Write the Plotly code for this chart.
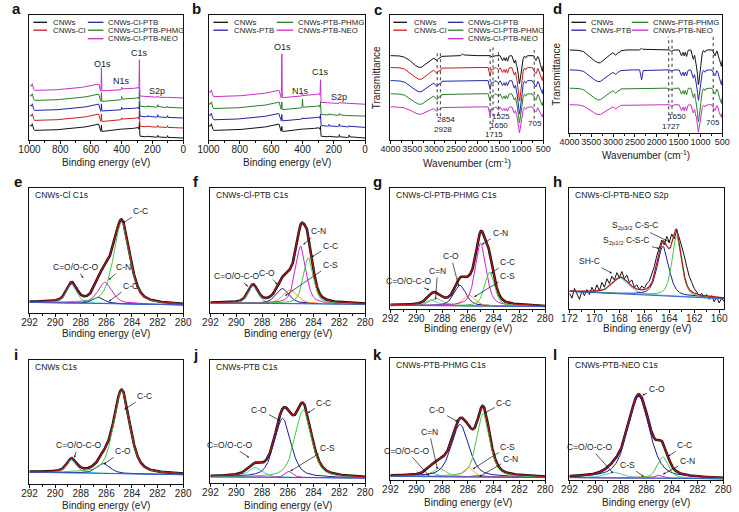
import numpy as np
import plotly.graph_objects as go

# ====================== DATA ======================
# ---- a / b : XPS survey spectra (binding energy eV, intensity a.u.) ----
SURVEY_BG_BE = [1000, 990, 982, 972, 960, 900, 750, 600, 565, 548, 537, 528, 450, 350, 300, 291, 286, 281, 250, 150, 0]
SURVEY_BG_I = [12.0, 11.0, 12.0, 8.0, 7.5, 7.6, 8.8, 11.0, 12.3, 12.8, 7.0, 6.8, 7.6, 9.0, 9.6, 10.0, 7.0, 3.0, 2.6, 2.2, 1.6]
SURVEY_PEAK_BE = [978, 532, 400, 285, 230, 165, 102]      # O KLL, O1s, N1s, C1s, S2s, S2p, Si2p
SURVEY_PEAK_FWHM = [8, 3, 3, 3, 3, 3, 3]

A_NAMES = ["CNWs", "CNWs-Cl", "CNWs-Cl-PTB", "CNWs-Cl-PTB-PHMG", "CNWs-Cl-PTB-NEO"]
A_OFFSET = [0, 8, 16, 24, 32]
A_PEAK_H = [
    [2, 5, 0.5, 8, 0.5, 1.5, 1.5],
    [2, 6, 1.5, 9, 0.5, 1.5, 1.5],
    [2, 6, 2.0, 9, 1.0, 2.0, 1.5],
    [2, 7, 2.5, 10, 1.0, 2.0, 1.0],
    [2, 19, 2.0, 26, 0.5, 1.0, 0.5],
]
B_NAMES = ["CNWs", "CNWs-PTB", "CNWs-PTB-PHMG", "CNWs-PTB-NEO"]
B_OFFSET = [0, 8.5, 17.5, 27]
B_PEAK_H = [
    [2, 4, 0.5, 5, 0.5, 2.0, 2.0],
    [2, 5, 1.0, 6, 1.5, 2.0, 1.0],
    [2, 6, 7.0, 7, 1.0, 1.5, 0.5],
    [2, 35, 1.5, 15, 0.5, 1.0, 0.5],
]

# ---- c / d : FTIR spectra (wavenumber cm-1, transmittance a.u.) ----
IR_BAND_CM = [3320, 2928, 2854, 2345, 1715, 1650, 1525, 1430, 1370, 1315, 1160, 1105, 1055, 1025, 895, 705, 665, 560, 515]
IR_BAND_FWHM = [420, 70, 40, 35, 35, 50, 40, 45, 35, 35, 45, 35, 50, 80, 30, 40, 45, 60, 40]

C_NAMES = ["CNWs", "CNWs-Cl", "CNWs-Cl-PTB", "CNWs-Cl-PTB-PHMG", "CNWs-Cl-PTB-NEO"]
C_LEVEL = [67.5, 58, 47.5, 37, 26.5]
C_DEPTH = [
    [9.5, 3.0, 1.5, -1.5, 0, 1.5, 0, 4, 4, 4.5, 6, 7, 9, 17, 2, 0, 4, 7, 11],
    [9.5, 4.0, 2.5, 0, 7, 2, 2, 4, 4, 4.5, 6, 8, 10, 21, 2, 2, 5, 6, 9],
    [9.0, 4.0, 2.5, 0, 7, 2, 2, 4, 4, 4.0, 6, 8, 10, 21, 2, 2, 5, 6, 9],
    [8.5, 4.0, 2.5, 0, 6, 2, 2, 4, 4, 4.0, 5, 7, 9, 18, 2, 2, 5, 6, 8],
    [6.0, 3.0, 2.0, 0, 7, 2, 2.5, 3, 3, 3.5, 5, 6, 8, 16, 2, 2, 4, 5, 7],
]
C_MARK_CM = [2928, 2854, 1715, 1650, 1525, 705]
C_MARK_TOP = [71.6, 71.6, 75, 75, 71, 72]
C_MARK_BOTTOM = [19, 19, 8, 14, 20, 17]

D_NAMES = ["CNWs", "CNWs-PTB", "CNWs-PTB-PHMG", "CNWs-PTB-NEO"]
D_LEVEL = [70.4, 53.5, 38, 24]
D_DEPTH = [
    [11, 3.5, 2.0, -1.5, 0, 1.5, 0, 5, 5, 5.5, 8, 9, 12, 22, 2, 0, 5, 8, 12],
    [10, 3.0, 1.5, 8.5, 0, 1.5, 0, 5, 5, 5.0, 7, 8, 11, 19, 2, 1, 5, 7, 11],
    [10, 3.5, 2.0, 0, 1, 2.0, 0, 5, 5, 5.5, 8, 9, 12, 21, 2, 1, 5, 8, 11],
    [8.5, 3.0, 1.5, 0, 0, 1.5, 0, 5, 5, 5.0, 7, 8, 10, 17, 2, 1, 5, 7, 9],
]
D_MARK_CM = [1727, 1650, 705]
D_MARK_TOP = [81.7, 81.7, 83.5]
D_MARK_BOTTOM = [10, 15.5, 12.7]

# ---- e–l : high-resolution XPS peak fits (centre eV, height, FWHM eV) ----
E_COMP = ["C=O/O-C-O", "C-O", "C-N", "C-C"]
E_CENTER = [288.7, 286.6, 286.1, 284.8]
E_HEIGHT = [15, 5, 17, 65]
E_FWHM = [0.95, 1.0, 1.3, 1.5]
E_BASE = [8.5, 6.5]

F_COMP = ["C=O/O-C-O", "C-O", "C-S", "C-N", "C-C"]
F_CENTER = [288.7, 286.4, 285.8, 285.0, 284.4]
F_HEIGHT = [14, 12, 11, 46, 37]
F_FWHM = [0.9, 1.2, 1.3, 0.95, 0.9]
F_BASE = [8, 7]

G_COMP = ["C=O/O-C-O", "C=N", "C-O", "C-S", "C-N", "C-C"]
G_CENTER = [288.8, 288.4, 286.6, 285.9, 285.0, 284.3]
G_HEIGHT = [5, 6, 17, 9, 52, 28]
G_FWHM = [1.0, 1.2, 1.1, 1.1, 1.0, 0.9]
G_BASE = [3, 2]

H_COMP = ["SH-C", "S2p1/2 C-S-C", "S2p3/2 C-S-C"]
H_CENTER = [167.9, 164.5, 163.4]
H_HEIGHT = [13, 41, 50]
H_FWHM = [1.6, 1.1, 0.9]
H_BASE = [14.5, 8.5]
H_RAW_BE = [172.0, 171.8, 171.6, 171.4, 171.2, 171.0, 170.8, 170.6, 170.4, 170.2, 170.0, 169.8, 169.6, 169.4,
            169.2, 169.0, 168.8, 168.6, 168.4, 168.2, 168.0, 167.8, 167.6, 167.4, 167.2, 167.0, 166.8, 166.6,
            166.4, 166.2, 166.0, 165.8, 165.6, 165.4, 165.2, 165.0, 164.8, 164.6, 164.4, 164.2, 164.0, 163.8,
            163.6, 163.4, 163.2, 163.0, 162.8, 162.6, 162.4, 162.2, 162.0, 161.8, 161.6, 161.4, 161.2, 161.0,
            160.8, 160.6, 160.4, 160.2, 160.0, 159.8, 159.6]
H_RAW_I = [13, 9, 17, 12, 8, 15, 11, 16, 12, 18, 14, 20, 15, 22,
           18, 25, 21, 27, 24, 30, 26, 31, 25, 28, 22, 24, 18, 20,
           16, 19, 17, 21, 23, 29, 35, 44, 50, 57, 53, 60, 55, 62,
           58, 65, 59, 52, 44, 35, 27, 22, 17, 14, 11, 13, 9, 12,
           8, 11, 6, 10, 5, 9, 6]

I_COMP = ["C=O/O-C-O", "C-O", "C-C"]
I_CENTER = [288.7, 286.2, 284.8]
I_HEIGHT = [10.5, 8, 67]
I_FWHM = [0.9, 1.2, 1.5]
I_BASE = [9.5, 7.5]

J_COMP = ["C=O/O-C-O", "C-O", "C-S", "C-C"]
J_CENTER = [288.5, 286.4, 285.9, 284.8]
J_HEIGHT = [8, 48, 5, 55]
J_FWHM = [1.3, 1.5, 0.7, 1.5]
J_BASE = [5, 4]

K_COMP = ["C=O/O-C-O", "C=N", "C-O", "C-S", "C-N", "C-C"]
K_CENTER = [288.8, 288.2, 286.6, 285.9, 285.0, 284.8]
K_HEIGHT = [3, 7, 43, 8, 1.5, 52]
K_FWHM = [1.0, 1.2, 1.6, 0.9, 1.0, 1.2]
K_BASE = [3, 2]

L_COMP = ["C=O/O-C-O", "C-O", "C-S", "C-N", "C-C"]
L_CENTER = [288.5, 286.6, 286.0, 285.0, 284.7]
L_HEIGHT = [4.5, 67, 1.5, 2.5, 17.5]
L_FWHM = [1.6, 2.0, 1.0, 0.8, 1.0]
L_BASE = [2, 1]

# ====================== STYLE / LAYOUT ======================
W, H = 739, 512
FONT = "Liberation Sans, Arial, sans-serif"

SERIES_COLOR = {
    "CNWs": "#111111", "CNWs-Cl": "#c81e1e",
    "CNWs-Cl-PTB": "#2124a6", "CNWs-PTB": "#2124a6",
    "CNWs-Cl-PTB-PHMG": "#2a7d2a", "CNWs-PTB-PHMG": "#2a7d2a",
    "CNWs-Cl-PTB-NEO": "#c82ec8", "CNWs-PTB-NEO": "#c82ec8",
}
COMP_COLOR = {
    "C-C": "#45c845", "C-N": "#cc22cc", "C-O": "#1c1c9a", "C=O/O-C-O": "#40c8d0",
    "C-S": "#f29b3a", "C=N": "#9ab83c", "SH-C": "#40c8d0",
    "S2p1/2 C-S-C": "#1c1c9a", "S2p3/2 C-S-C": "#45c845",
}
ENV_COLOR = "#b3151a"
BASE_COLOR = "#3a5fcd"

# panel frames in pixels: left, right, top, bottom
FRAME = {
    "a": (19, 177, 15, 140), "b": (203, 364, 15, 140),
    "c": (390, 547, 15, 140), "d": (574, 731, 15, 133),
    "e": (19, 177, 188, 313), "f": (205, 364, 188, 313),
    "g": (390, 549, 188, 309), "h": (574, 733, 188, 309),
    "i": (19, 177, 360, 484), "j": (205, 364, 360, 483),
    "k": (390, 549, 358, 480), "l": (574, 732, 358, 480),
}
TITLE_Y = {"a": 162, "b": 162, "c": 163, "d": 155, "e": 333, "f": 333, "g": 328, "h": 328,
           "i": 505, "j": 505, "k": 502, "l": 502}
LETTER_POS = {"a": (6, 8), "b": (191, 8), "c": (377, 9), "d": (562, 8),
              "e": (7, 181), "f": (190, 181), "g": (377, 181), "h": (562, 181),
              "i": (5, 354), "j": (190, 354), "k": (377, 354), "l": (559, 354)}
PANELS = list("abcdefghijkl")


def ids(key):
    n = PANELS.index(key) + 1
    s = "" if n == 1 else str(n)
    return "x" + s, "y" + s, "xaxis" + s, "yaxis" + s


def gauss(x, c, h, w):
    return h * np.exp(-4 * np.log(2) * ((x - c) / w) ** 2)


def pvoigt(x, c, h, w, eta=0.5):
    d = (x - c) / w
    return h * (eta / (1 + 4 * d * d) + (1 - eta) * np.exp(-4 * np.log(2) * d * d))


fig = go.Figure()
ann = []
shapes = []

# ---------- survey panels ----------
grid_be = np.arange(0, 1000.25, 0.5)
bg_x = SURVEY_BG_BE[::-1]
bg_y = SURVEY_BG_I[::-1]
for key, names, offs, heights in (("a", A_NAMES, A_OFFSET, A_PEAK_H), ("b", B_NAMES, B_OFFSET, B_PEAK_H)):
    xid, yid, _, _ = ids(key)
    for name, off, hs in zip(names, offs, heights):
        y = np.interp(grid_be, bg_x, bg_y) + off
        for c, w, h in zip(SURVEY_PEAK_BE, SURVEY_PEAK_FWHM, hs):
            y = y + gauss(grid_be, c, h, w)
        fig.add_trace(go.Scatter(x=grid_be, y=y, mode="lines", xaxis=xid, yaxis=yid,
                                 line=dict(color=SERIES_COLOR[name], width=1), showlegend=False))

SURVEY_LABELS = {
    "a": [("O1s", 524, 61), ("N1s", 402, 47.5), ("C1s", 285, 70), ("S2p", 173, 39.5)],
    "b": [("O1s", 525, 74.7), ("N1s", 410, 39.5), ("C1s", 285, 54.7), ("S2p", 165, 34.7)],
}
for key, labs in SURVEY_LABELS.items():
    xid, yid, _, _ = ids(key)
    for t, x, y in labs:
        ann.append(dict(x=x, y=y, xref=xid, yref=yid, text=t, showarrow=False,
                        font=dict(family=FONT, size=9, color="#222")))

# ---------- FTIR panels ----------
grid_cm = np.arange(500, 4001, 2.0)
for key, names, levels, depths, marks, mtop, mbot in (
        ("c", C_NAMES, C_LEVEL, C_DEPTH, C_MARK_CM, C_MARK_TOP, C_MARK_BOTTOM),
        ("d", D_NAMES, D_LEVEL, D_DEPTH, D_MARK_CM, D_MARK_TOP, D_MARK_BOTTOM)):
    xid, yid, _, _ = ids(key)
    for name, lev, dep in zip(names, levels, depths):
        y = np.full_like(grid_cm, lev)
        for c, w, d in zip(IR_BAND_CM, IR_BAND_FWHM, dep):
            y = y - gauss(grid_cm, c, d, w)
        fig.add_trace(go.Scatter(x=grid_cm, y=y, mode="lines", xaxis=xid, yaxis=yid,
                                 line=dict(color=SERIES_COLOR[name], width=1), showlegend=False))
    for m, t0, b0 in zip(marks, mtop, mbot):
        fig.add_trace(go.Scatter(x=[m, m], y=[b0, t0], mode="lines", xaxis=xid, yaxis=yid,
                                 line=dict(color="#555", width=1.2, dash="dot"), showlegend=False))

IR_LABELS = {
    "c": [("2854", 2719, 16.5), ("2928", 2794, 8.5), ("1525", 1468, 18.5), ("1650", 1520, 11.5),
          ("1715", 1617, 4.5), ("705", 687, 13.5)],
    "d": [("1650", 1535, 14), ("1727", 1684, 5.6), ("705", 716, 9.3)],
}
for key, labs in IR_LABELS.items():
    xid, yid, _, _ = ids(key)
    for t, x, y in labs:
        ann.append(dict(x=x, y=y, xref=xid, yref=yid, text=t, showarrow=False,
                        font=dict(family=FONT, size=8, color="#222")))

# ---------- high-resolution XPS panels ----------
XPS = {
    "e": ("CNWs-Cl C1s", (292, 280), E_COMP, E_CENTER, E_HEIGHT, E_FWHM, E_BASE),
    "f": ("CNWs-Cl-PTB C1s", (292, 280), F_COMP, F_CENTER, F_HEIGHT, F_FWHM, F_BASE),
    "g": ("CNWs-Cl-PTB-PHMG C1s", (292, 280), G_COMP, G_CENTER, G_HEIGHT, G_FWHM, G_BASE),
    "h": ("CNWs-Cl-PTB-NEO S2p", (172, 159.6), H_COMP, H_CENTER, H_HEIGHT, H_FWHM, H_BASE),
    "i": ("CNWs C1s", (292, 280), I_COMP, I_CENTER, I_HEIGHT, I_FWHM, I_BASE),
    "j": ("CNWs-PTB C1s", (292, 280), J_COMP, J_CENTER, J_HEIGHT, J_FWHM, J_BASE),
    "k": ("CNWs-PTB-PHMG C1s", (292, 280), K_COMP, K_CENTER, K_HEIGHT, K_FWHM, K_BASE),
    "l": ("CNWs-PTB-NEO C1s", (292, 280), L_COMP, L_CENTER, L_HEIGHT, L_FWHM, L_BASE),
}
COLOR_OVERRIDE = {"j": {"C-S": "#cc22cc"}}

for key, (title, xr, comps, cens, hts, fws, base) in XPS.items():
    xid, yid, _, _ = ids(key)
    x = np.linspace(xr[1], xr[0], 700)
    bl = np.interp(x, [xr[1], xr[0]], [base[1], base[0]])
    env = bl.copy()
    comp_traces = []
    for name, c, h, w in zip(comps, cens, hts, fws):
        p = pvoigt(x, c, h, w)
        env = env + p
        col = COLOR_OVERRIDE.get(key, {}).get(name, COMP_COLOR[name])
        comp_traces.append(go.Scatter(x=x, y=bl + p, mode="lines", xaxis=xid, yaxis=yid,
                                      line=dict(color=col, width=1), showlegend=False))
    if key == "h":
        fig.add_trace(go.Scatter(x=H_RAW_BE, y=H_RAW_I, mode="lines", xaxis=xid, yaxis=yid,
                                 line=dict(color="#111", width=1), showlegend=False))
    else:
        fig.add_trace(go.Scatter(x=x, y=env, mode="lines", xaxis=xid, yaxis=yid,
                                 line=dict(color="#111", width=2.6), showlegend=False))
    for tr in comp_traces:
        fig.add_trace(tr)
    fig.add_trace(go.Scatter(x=x, y=bl, mode="lines", xaxis=xid, yaxis=yid,
                             line=dict(color=BASE_COLOR, width=1), showlegend=False))
    fig.add_trace(go.Scatter(x=x, y=env, mode="lines", xaxis=xid, yaxis=yid,
                             line=dict(color=ENV_COLOR, width=1.2), showlegend=False))
    ann.append(dict(x=0.025, y=0.945, xref=xid + " domain", yref=yid + " domain", text=title,
                    showarrow=False, xanchor="left", yanchor="middle",
                    font=dict(family=FONT, size=8.5, color="#222")))

# peak labels with arrows: text, tip (x, y), text centre (x, y)
PEAK_LABELS = {
    "e": [("C-C", 284.7, 72, 283.3, 81.3), ("C-N", 285.8, 26.7, 284.7, 36.5),
          ("C-O", 285.8, 9.3, 284.1, 22), ("C=O/O-C-O", 287.8, 28, 288.4, 36.8)],
    "f": [("C-N", 284.8, 54.7, 283.6, 65.3), ("C-C", 284.15, 44.8, 282.7, 53.9),
          ("C-S", 286.2, 13.9, 282.7, 38.7), ("C-O", 286.8, 22.7, 287.6, 32),
          ("C=O/O-C-O", 289.1, 21.3, 290.0, 29.3)],
    "g": [("C-N", 284.9, 53.4, 283.5, 62.9), ("C-C", 284.2, 29.4, 282.9, 39),
          ("C-S", 285.5, 10, 282.9, 27), ("C-O", 286.7, 18.6, 287.3, 43.4),
          ("C=N", 288.5, 7.7, 288.35, 31.4), ("C=O/O-C-O", 289.0, 15.7, 290.6, 22.9)],
    "h": [("S<sub>2p3/2</sub> C-S-C", 163.9, 55, 166.7, 69),
          ("S<sub>2p1/2</sub> C-S-C", 164.8, 50, 167.4, 56.3),
          ("SH-C", 168.6, 29.6, 170.4, 39.4)],
    "i": [("C-C", 284.6, 60, 283.0, 70.7), ("C-O", 286.2, 16, 284.7, 26.7),
          ("C=O/O-C-O", 288.5, 21.3, 288.2, 31.2)],
    "j": [("C-C", 284.45, 57, 283.2, 65.3), ("C-O", 286.6, 50.8, 288.2, 59.7),
          ("C-S", 285.8, 9.7, 282.9, 28.3), ("C=O/O-C-O", 289.0, 20.8, 290.5, 31.1)],
    "k": [("C-C", 284.7, 54.9, 283.2, 63.4), ("C-O", 286.8, 47.9, 288.35, 57.2),
          ("C=N", 288.35, 9, 289.0, 39.4), ("C-S", 285.6, 9, 282.9, 27.3),
          ("C-N", 285.1, 2.8, 282.7, 17.5), ("C=O/O-C-O", 289.0, 3.4, 290.75, 23.9)],
    "l": [("C-O", 286.3, 69.4, 285.2, 75), ("C-C", 284.3, 19.4, 283.0, 28.3),
          ("C-N", 284.7, 4.7, 282.8, 15.3), ("C-S", 286.2, 2.8, 287.5, 12.5),
          ("C=O/O-C-O", 288.6, 5.6, 290.4, 26.9)],
}
for key, labs in PEAK_LABELS.items():
    xid, yid, _, _ = ids(key)
    for t, x, y, tx, ty in labs:
        ann.append(dict(x=x, y=y, ax=tx, ay=ty, xref=xid, yref=yid, axref=xid, ayref=yid,
                        text=t, showarrow=True, arrowhead=2, arrowsize=0.6, arrowwidth=0.7,
                        arrowcolor="#111", standoff=0,
                        font=dict(family=FONT, size=8.5, color="#222")))

# ---------- legends (panels a–d) ----------
LEGEND_COLS = {  # per panel: column line x0, x1, text x (px)
    "a": [(23, 37, 41), (79, 95, 98)],
    "b": [(208, 223, 227), (273, 290, 293)],
    "c": [(393, 407, 412), (449, 465, 468)],
    "d": [(576, 591, 594), (638, 655, 658)],
}
LEGEND_ROWS = [22.3, 30.2, 38.7]
LEGEND_SPLIT = {"a": (A_NAMES[:2], A_NAMES[2:]), "b": (B_NAMES[:2], B_NAMES[2:]),
                "c": (C_NAMES[:2], C_NAMES[2:]), "d": (D_NAMES[:2], D_NAMES[2:])}
for key, cols in LEGEND_SPLIT.items():
    for (x0, x1, tx), names in zip(LEGEND_COLS[key], cols):
        for r, name in enumerate(names):
            yy = 1 - LEGEND_ROWS[r] / H
            shapes.append(dict(type="line", xref="paper", yref="paper", x0=x0 / W, x1=x1 / W,
                               y0=yy, y1=yy, line=dict(color=SERIES_COLOR[name], width=1.3)))
            ann.append(dict(x=tx / W, y=yy, xref="paper", yref="paper", text=name, showarrow=False,
                            xanchor="left", yanchor="middle",
                            font=dict(family=FONT, size=7.8, color="#222")))

# ---------- axes ----------
XRANGE = {"a": (1000, 0), "b": (1000, 0), "c": (4000, 500), "d": (4000, 500)}
XDTICK = {"a": 200, "b": 200, "c": 500, "d": 500}
layout = {}
for key in PANELS:
    xid, yid, xa, ya = ids(key)
    l, r, t, b = FRAME[key]
    xr = XRANGE.get(key, XPS[key][1] if key in XPS else None)
    dt = XDTICK.get(key, 2)
    fs = 9 if key in "cd" else 10
    layout[xa] = dict(domain=[l / W, r / W], anchor=yid, range=list(xr), showline=True,
                      linecolor="#111", linewidth=1, mirror=True, ticks="outside", ticklen=3,
                      tickwidth=1, tickcolor="#111", dtick=dt, tick0=0, tickangle=0,
                      ticklabelstandoff=-3, showgrid=False, zeroline=False,
                      tickfont=dict(family=FONT, size=fs, color="#222"),
                      minor=dict(ticks="outside", ticklen=2, tickcolor="#111", dtick=dt / 2, showgrid=False))
    layout[ya] = dict(domain=[1 - b / H, 1 - t / H], anchor=xid, range=[0, 100], showline=True,
                      linecolor="#111", linewidth=1, mirror=True, ticks="", showticklabels=False,
                      showgrid=False, zeroline=False)
    lx, ly = LETTER_POS[key]
    ann.append(dict(x=lx / W, y=1 - ly / H, xref="paper", yref="paper", text="<b>%s</b>" % key,
                    showarrow=False, xanchor="center", yanchor="middle",
                    font=dict(family=FONT, size=15, color="#111")))
    title = "Wavenumber (cm<sup>-1</sup>)" if key in "cd" else "Binding energy (eV)"
    ann.append(dict(x=(l + r) / 2 / W, y=1 - TITLE_Y[key] / H, xref="paper", yref="paper", text=title,
                    showarrow=False, xanchor="center", yanchor="middle",
                    font=dict(family=FONT, size=10, color="#222")))

for key, xc in (("c", 376), ("d", 560)):
    l, r, t, b = FRAME[key]
    ann.append(dict(x=xc / W, y=1 - (t + b) / 2 / H, xref="paper", yref="paper", text="Transmittance",
                    textangle=-90, showarrow=False, xanchor="center", yanchor="middle",
                    font=dict(family=FONT, size=10, color="#222")))

fig.update_layout(width=W, height=H, margin=dict(l=0, r=0, t=0, b=0), paper_bgcolor="white",
                  plot_bgcolor="white", showlegend=False, annotations=ann, shapes=shapes, **layout)
fig.write_html("out.html", config={"displayModeBar": False},
               post_script="document.body.style.margin='0';document.body.style.padding='0';")
